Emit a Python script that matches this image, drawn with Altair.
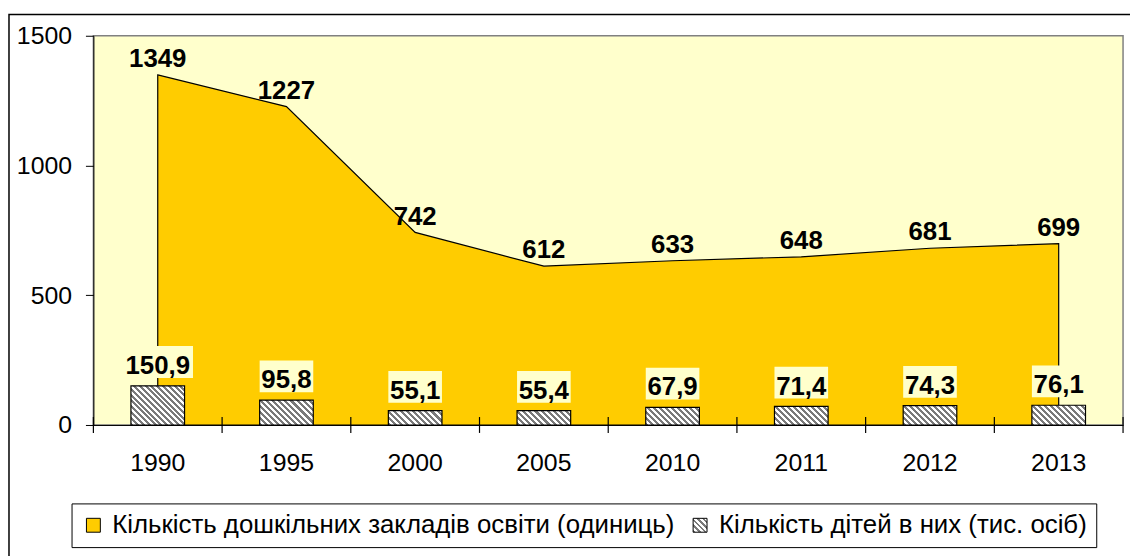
import altair as alt
import pandas as pd

years = ["1990", "1995", "2000", "2005", "2010", "2011", "2012", "2013"]
institutions = [1349, 1227, 742, 612, 633, 648, 681, 699]
children = [150.9, 95.8, 55.1, 55.4, 67.9, 71.4, 74.3, 76.1]
series_names = ["Кількість дошкільних закладів освіти (одиниць)",
                "Кількість дітей в них (тис. осіб)"]

W, H = 1037, 392
YMAX = 1500
BAR_W = 54
PX = YMAX / H  # data units per pixel
FONT = "Liberation Sans"
GOLD = "#FFCC00"
PALE = "#FFFFCC"
GREY = "#7a7a7a"


def stripe_stops(n):
    stops = []
    for i in range(n):
        stops += [
            {"offset": i / n, "color": GREY},
            {"offset": (i + 0.5) / n, "color": GREY},
            {"offset": (i + 0.5) / n, "color": "#ffffff"},
            {"offset": (i + 1) / n, "color": "#ffffff"},
        ]
    return stops


def hatch(bw, bh):
    r = bh / bw
    k = (1 + r) / (1 + r * r)
    n = max(2, round((bw + bh) / 6))
    return {"gradient": "linear", "x1": 0, "y1": 1, "x2": k, "y2": 1 - r * k,
            "stops": stripe_stops(n)}


rows = []
for yr, inst, ch in zip(years, institutions, children):
    rows.append({
        "year": yr,
        "inst": inst,
        "child": ch,
        "series": series_names[0],
        "grad": hatch(BAR_W, ch / YMAX * H),
    })
df = pd.DataFrame(rows)

legend_hatch = hatch(14, 14)
stops_js = ",".join("{offset:%g,color:'%s'}" % (s["offset"], s["color"]) for s in legend_hatch["stops"])
legend_expr = "{gradient:'linear',x1:0,y1:1,x2:1,y2:0,stops:[%s]}" % stops_js

xscale = alt.Scale(paddingInner=0, paddingOuter=0)
xaxis = alt.Axis(title=None, ticks=False, labelFontSize=25, labelFont=FONT,
                 labelColor="black", domainColor="black", labelPadding=26,
                 labelAngle=0)
yscale = alt.Scale(domain=[0, YMAX], nice=False)
yaxis = alt.Axis(title=None, values=[0, 500, 1000, 1500], grid=False, format="d",
                 labelFontSize=25, labelFont=FONT, labelColor="black",
                 domainColor="black", tickColor="black", tickSize=8,
                 labelPadding=14)

base = alt.Chart(df)

border = alt.Chart(pd.DataFrame({"a": [0]})).mark_rect(
    fill=None, stroke="black", strokeWidth=1.5, clip=False
).encode(
    x=alt.value(-85), x2=alt.value(W + 60), y=alt.value(-21.5), y2=alt.value(H + 200)
)

area = base.mark_area(stroke="black", strokeWidth=1.2, opacity=1).encode(
    x=alt.X("year:N", scale=xscale, axis=xaxis, bandPosition=0.5),
    y=alt.Y("inst:Q", scale=yscale, axis=yaxis),
    color=alt.Color(
        "series:N",
        scale=alt.Scale(domain=series_names, range=[GOLD, alt.ExprRef(legend_expr)]),
        legend=alt.Legend(
            title=None, orient="none", legendX=-22, legendY=471,
            direction="horizontal", columns=2, symbolType="square",
            symbolSize=196, symbolStrokeColor="black", symbolStrokeWidth=1,
            symbolOpacity=1,
            labelFont=FONT, labelFontSize=26, labelColor="black",
            labelLimit=900, labelOffset=6, columnPadding=12,
            strokeColor="black", padding=9, fillColor="white",
        ),
    ),
)

bars = base.mark_bar(size=BAR_W, stroke="black", strokeWidth=1.2).encode(
    x=alt.X("year:N", scale=xscale, axis=xaxis),
    y=alt.Y("child:Q", scale=yscale, axis=yaxis),
    fill=alt.Fill("grad:N", scale=None, legend=None),
)

bar_bg = base.transform_calculate(
    lab="replace(format(datum.child, '.1f'), '.', ',')",
    lo=f"datum.child + {8 * PX}",
    hi=f"datum.child + {40 * PX}",
    bw="length(datum.lab) * 17 - 14",
).mark_bar(color=PALE).encode(
    x=alt.X("year:N", scale=xscale, axis=xaxis),
    y=alt.Y("lo:Q", scale=yscale, axis=yaxis),
    y2="hi:Q",
    size=alt.Size("bw:Q", scale=None, legend=None),
)

bar_txt = base.transform_calculate(
    lab="replace(format(datum.child, '.1f'), '.', ',')"
).mark_text(font=FONT, fontSize=26, fontWeight="bold", color="black",
            baseline="alphabetic", dy=-12).encode(
    x=alt.X("year:N", scale=xscale, axis=xaxis),
    y=alt.Y("child:Q", scale=yscale, axis=yaxis),
    text="lab:N",
)

area_txt = base.mark_text(font=FONT, fontSize=26, fontWeight="bold", color="black",
                          baseline="alphabetic", dy=-8).encode(
    x=alt.X("year:N", scale=xscale, axis=xaxis, bandPosition=0.5),
    y=alt.Y("inst:Q", scale=yscale, axis=yaxis),
    text="inst:Q",
)

ticks = base.mark_rule(color="black", strokeWidth=1.2).encode(
    x=alt.X("year:N", scale=xscale, axis=xaxis, bandPosition=0),
    y=alt.value(H - 8), y2=alt.value(H + 8),
)
end_tick = alt.Chart(pd.DataFrame({"a": [0]})).mark_rule(color="black", strokeWidth=1.2).encode(
    x=alt.value(W), y=alt.value(H - 8), y2=alt.value(H + 8)
)

chart = alt.layer(border, area, bars, bar_bg, bar_txt, area_txt, ticks, end_tick).properties(
    width=W, height=H,
    padding={"left": 86, "top": 26, "right": 7, "bottom": 130},
    autosize="none",
    background="white",
).configure_view(
    fill=PALE, stroke="#808080", strokeWidth=1.5
)

chart.save("out.html", embed_options={"renderer": "svg", "actions": False})
